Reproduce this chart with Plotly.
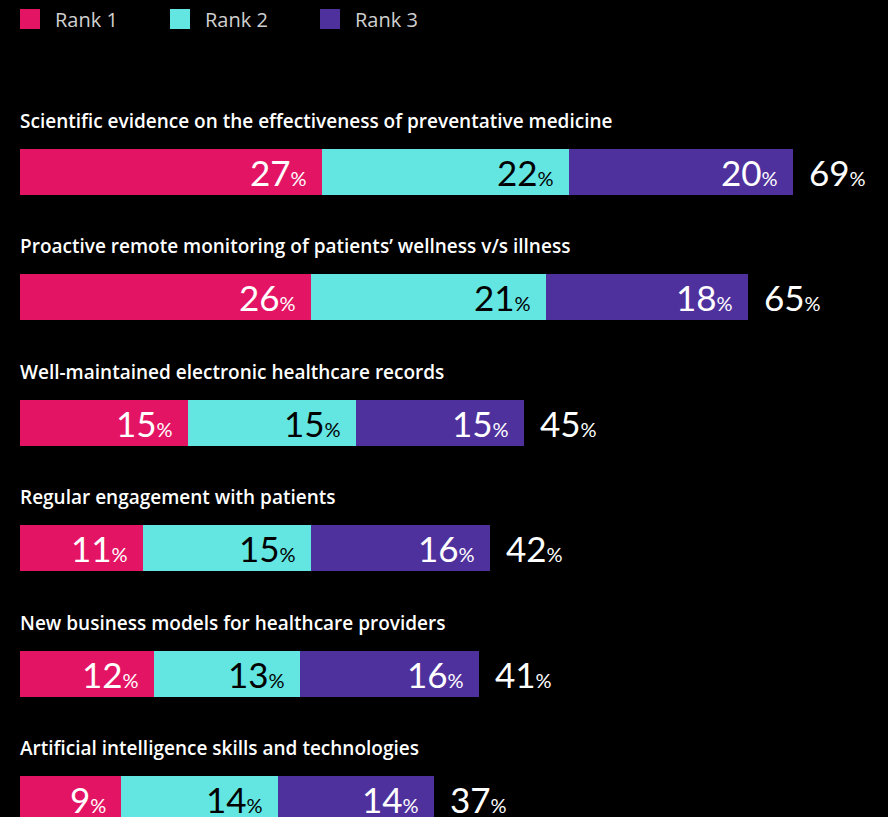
import plotly.graph_objects as go

# Survey data: share of respondents ranking each factor 1st, 2nd, 3rd
categories = [
    "Scientific evidence on the effectiveness of preventative medicine",
    "Proactive remote monitoring of patients\u2019 wellness v/s illness",
    "Well-maintained electronic healthcare records",
    "Regular engagement with patients",
    "New business models for healthcare providers",
    "Artificial intelligence skills and technologies",
]
rank1 = [27, 26, 15, 11, 12, 9]
rank2 = [22, 21, 15, 15, 13, 14]
rank3 = [20, 18, 15, 16, 16, 14]
series_names = ["Rank 1", "Rank 2", "Rank 3"]

colors = ["#E41464", "#63E6E1", "#4F319E"]
label_colors = ["#FFFFFF", "#000000", "#FFFFFF"]
NUM_FONT = "Lato"
TITLE_FONT = "Open Sans"

series = [rank1, rank2, rank3]
ypos = list(range(len(categories)))
totals = [a + b + c for a, b, c in zip(rank1, rank2, rank3)]


def pct(v, big=35, small=20):
    return f"<span style='font-size:{big}px'>{v}</span><span style='font-size:{small}px'>%</span>"


fig = go.Figure()
base = [0] * len(categories)
annotations = []
for name, vals, col, lcol in zip(series_names, series, colors, label_colors):
    fig.add_trace(go.Bar(
        name=name, y=ypos, x=vals, base=base, orientation="h",
        marker=dict(color=col, line=dict(width=0)), width=0.367,
        showlegend=False, hoverinfo="skip",
    ))
    ends = [b + v for b, v in zip(base, vals)]
    for y, e, v in zip(ypos, ends, vals):
        annotations.append(dict(
            x=e, y=y, xref="x", yref="y", text=pct(v), showarrow=False,
            xanchor="right", yanchor="middle", xshift=-13, yshift=0,
            font=dict(family=NUM_FONT, color=lcol, size=35, weight=400),
        ))
    base = ends

# Totals to the right of each bar
for y, t in zip(ypos, totals):
    annotations.append(dict(
        x=t, y=y, xref="x", yref="y", text=pct(t), showarrow=False,
        xanchor="left", yanchor="middle", xshift=14,
        font=dict(family=NUM_FONT, color="#FFFFFF", size=35, weight=400),
    ))

# Category titles above each bar
for y, c in zip(ypos, categories):
    annotations.append(dict(
        x=0, y=y, xref="x", yref="y", text=c, showarrow=False,
        xanchor="left", yanchor="middle", yshift=51, xshift=-2,
        font=dict(family=TITLE_FONT, color="#FFFFFF", size=19, weight=600),
    ))

# Legend row
shapes = []
for i, (name, col) in enumerate(zip(series_names, colors)):
    x0 = 20 + 150 * i
    shapes.append(dict(
        type="rect", xref="paper", yref="paper",
        x0=(x0 - 20) / 868, x1=(x0) / 868,
        y0=1 - 29 / 817, y1=1 - 9 / 817,
        fillcolor=col, line=dict(width=0),
    ))
    annotations.append(dict(
        x=(x0 + 15) / 868, y=1 - 19 / 817, xref="paper", yref="paper",
        text=name, showarrow=False, xanchor="left", yanchor="middle",
        xshift=-2,
        font=dict(family="Open Sans", color="#D0D0D0", size=20),
    ))

fig.update_layout(
    width=888, height=817,
    margin=dict(l=20, r=0, t=0, b=0),
    paper_bgcolor="#000000", plot_bgcolor="#000000",
    barmode="overlay", bargap=0,
    xaxis=dict(range=[0, 77.5], visible=False, fixedrange=True),
    yaxis=dict(range=[5.1435, -1.3716], visible=False, fixedrange=True),
    annotations=annotations, shapes=shapes,
    showlegend=False,
)

fig.write_html("out.html")
